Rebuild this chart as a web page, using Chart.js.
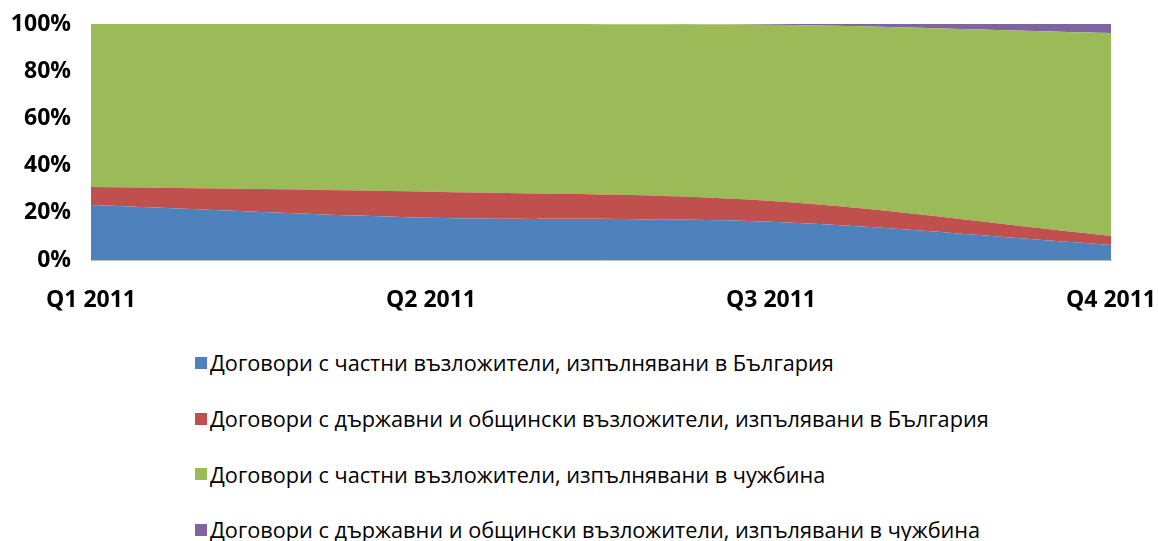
<!DOCTYPE html>
<html><head><meta charset="utf-8">
<script src="https://cdn.jsdelivr.net/npm/chart.js@4/dist/chart.umd.min.js"></script>
<style>
html,body{margin:0;padding:0;background:#fff;}
#wrap{position:relative;width:1158px;height:541px;overflow:hidden;}
#c{position:absolute;left:0;top:0;}
#legend{position:absolute;left:195px;top:335px;font-family:'Open Sans',sans-serif;font-size:21.7px;color:#000;}
.item{display:flex;align-items:center;height:55.7px;white-space:nowrap;}
.sw{width:12px;height:12px;margin-right:3px;display:inline-block;}
</style></head>
<body><div id="wrap"><canvas id="c" width="1158" height="330"></canvas><div id="legend"></div></div>
<script>
const categories = ['Q1 2011','Q2 2011','Q3 2011','Q4 2011'];
const seriesNames = [
  'Договори с частни възложители, изпълнявани в България',
  'Договори с държавни и общински възложители, изпълявани в България',
  'Договори с частни възложители, изпълнявани в чужбина',
  'Договори с държавни и общински възложители, изпълявани в чужбина'
];
const privateBG = [23.3, 17.9, 16.2, 6.4];
const publicBG = [7.6, 11.0, 8.8, 3.8];
const privateAbroad = [69.1, 71.1, 74.7, 86.0];
const publicAbroad = [0, 0, 0.3, 3.8];
const yTicks = [0, 20, 40, 60, 80, 100];
const colors = ['#4F81BD','#C0504D','#9BBB59','#8064A2'];

const values = [privateBG, publicBG, privateAbroad, publicAbroad];
const datasets = values.map((v,i)=>({
  label: seriesNames[i], data: v, backgroundColor: colors[i], borderColor: colors[i],
  borderWidth: 0, pointRadius: 0, fill: i===0 ? 'origin' : '-1', tension: 0.35
}));

const fontFam = "'Open Sans',sans-serif";
new Chart(document.getElementById('c'), {
  type: 'line',
  data: { labels: categories, datasets },
  options: {
    responsive: false, animation: false,
    layout: { padding: { left: 12, right: 47, top: 24, bottom: 0 } },
    plugins: { legend: { display: false }, tooltip: { enabled: false } },
    scales: {
      x: {
        offset: false,
        grid: { display: false, drawTicks: false },
        border: { display: true, color: '#bfbfbf', width: 1 },
        ticks: { color: '#000', padding: 27, maxRotation: 0, font: { family: fontFam, size: 23, weight: 'bold' } },
        afterFit: s => { s.height = 70; s.paddingLeft = 0; s.paddingRight = 0; }
      },
      y: {
        stacked: true, min: 0, max: 100,
        afterBuildTicks: s => { s.ticks = yTicks.map(v=>({value:v})); },
        grid: { display: false, drawTicks: false },
        border: { display: true, color: '#bfbfbf', width: 1 },
        ticks: { color: '#000', padding: 20, font: { family: fontFam, size: 23, weight: 'bold' }, callback: v => v + '%' },
        afterFit: s => { s.width = 79; s.paddingTop = 0; s.paddingBottom = 0; }
      }
    }
  }
});

const lg = document.getElementById('legend');
seriesNames.forEach((n,i)=>{
  const d = document.createElement('div'); d.className='item';
  const s = document.createElement('span'); s.className='sw'; s.style.background=colors[i];
  const t = document.createElement('span'); t.textContent = n;
  d.appendChild(s); d.appendChild(t); lg.appendChild(d);
});
</script></body></html>
